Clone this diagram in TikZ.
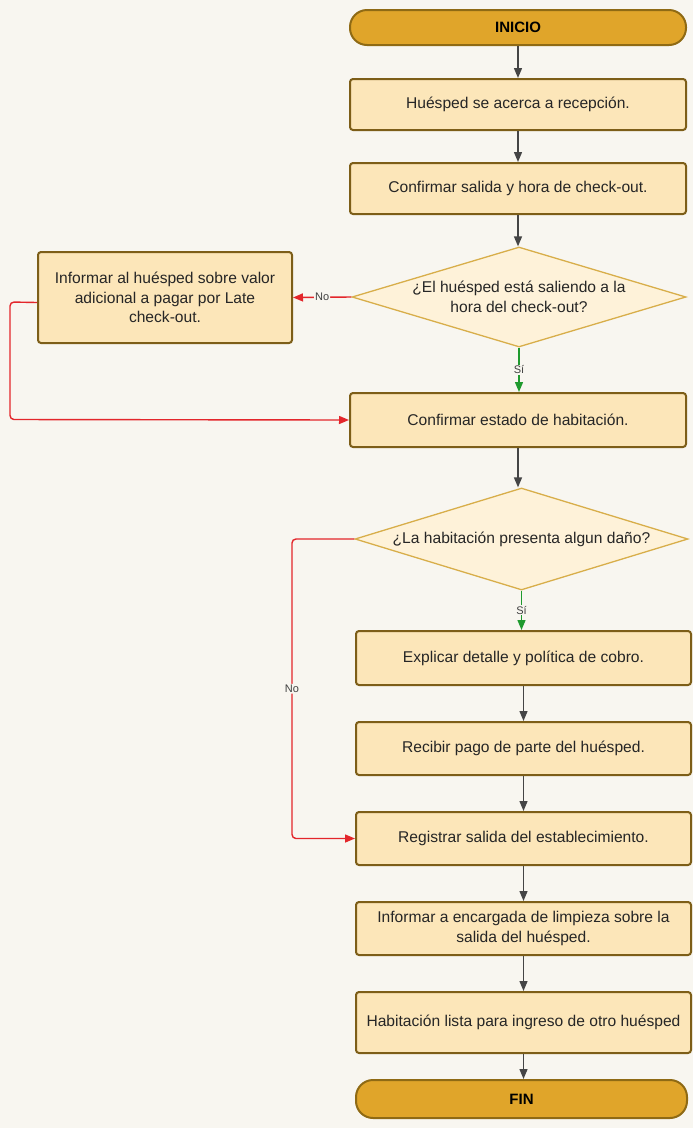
\documentclass[tikz,border=0pt]{standalone}
\usepackage{fontspec}
\setmainfont{Liberation Sans}
\usetikzlibrary{shapes.geometric,arrows.meta}
\definecolor{bgcol}{HTML}{F8F6F0}
\definecolor{boxfill}{HTML}{FCE6B9}
\definecolor{boxline}{HTML}{7D5E18}
\definecolor{termfill}{HTML}{E0A52A}
\definecolor{termline}{HTML}{8F6A14}
\definecolor{decfill}{HTML}{FEF2D9}
\definecolor{decline}{HTML}{D8AE4A}
\definecolor{flowgray}{HTML}{454545}
\definecolor{noRed}{HTML}{E3262B}
\definecolor{yesGreen}{HTML}{1F9A2E}
\tikzset{
  txt/.style={font=\fontsize{15.6}{19.5}\selectfont, text=black!85, align=center},
  stepbox/.style={txt, draw=boxline, fill=boxfill, line width=2pt, rounded corners=3pt,
    minimum width=336pt, inner sep=0pt},
  term/.style={draw=termline, fill=termfill, line width=2pt, rounded corners=17pt,
    font=\bfseries\fontsize{15}{18}\selectfont, inner sep=0pt},
  decision/.style={txt, shape=diamond, draw=decline, fill=decfill, line width=1.3pt,
    aspect=3.3, inner sep=0pt},
  tip/.style={-{Triangle[length=10pt,width=8pt]}},
  arr/.style={draw=flowgray, line width=1.4pt, tip},
  noarr/.style={draw=noRed, line width=1.4pt, rounded corners=4pt, tip},
  yesarr/.style={draw=yesGreen, line width=1.4pt, tip},
  lbl/.style={font=\fontsize{11}{13}\selectfont, text=black!75, fill=bgcol, inner sep=1pt},
}
\begin{document}
\begin{tikzpicture}[x=1pt,y=-1pt]
  \fill[bgcol] (0,0) rectangle (693,1128);
  \useasboundingbox (0,0) rectangle (693,1128);

  % upper column
  \node[term, minimum width=336pt, minimum height=35pt] (ini) at (518,27.5) {INICIO};
  \node[stepbox, minimum height=51pt] (b1) at (518,104.5) {Huésped se acerca a recepción.};
  \node[stepbox, minimum height=51pt] (b2) at (518,188.5) {Confirmar salida y hora de check-out.};
  \node[decision, minimum width=334pt, minimum height=100pt] (d1) at (519,297)
    {¿El huésped está saliendo a la\\hora del check-out?};
  \node[stepbox, minimum width=254pt, minimum height=91pt] (late) at (165,297.5)
    {Informar al huésped sobre valor\\adicional a pagar por Late\\check-out.};
  \node[stepbox, minimum height=54pt] (b3) at (518,420) {Confirmar estado de habitación.};

  % lower column
  \node[decision, minimum width=333pt, minimum height=102pt] (d2) at (521.5,539)
    {¿La habitación presenta algun daño?};
  \node[stepbox, minimum width=335pt, minimum height=54pt] (b4) at (523.5,658) {Explicar detalle y política de cobro.};
  \node[stepbox, minimum width=335pt, minimum height=53pt] (b5) at (523.5,748.5) {Recibir pago de parte del huésped.};
  \node[stepbox, minimum width=335pt, minimum height=53pt] (b6) at (523.5,838.5) {Registrar salida del establecimiento.};
  \node[stepbox, minimum width=335pt, minimum height=53pt] (b7) at (523.5,928.5)
    {Informar a encargada de limpieza sobre la\\salida del huésped.};
  \node[stepbox, minimum width=335pt, minimum height=61pt] (b8) at (523.5,1022.5)
    {Habitación lista para ingreso de otro huésped};
  \node[term, minimum width=331pt, minimum height=38pt] (fin) at (521.5,1099) {FIN};

  % main flow
  \draw[arr] (ini) -- (b1);
  \draw[arr] (b1) -- (b2);
  \draw[arr] (b2.south) -- (b2.south |- d1.north);
  \draw[yesarr] (d1.south) -- node[lbl] {Sí} (d1.south |- b3.north);
  \draw[arr] (b3.south) -- (b3.south |- d2.north);
  \draw[yesarr] (d2.south) -- node[lbl] {Sí} (d2.south |- b4.north);
  \draw[arr] (b4.south) -- (b4.south |- b5.north);
  \draw[arr] (b5) -- (b6);
  \draw[arr] (b6) -- (b7);
  \draw[arr] (b7) -- (b8);
  \draw[arr] (b8.south) -- (b8.south |- fin.north);

  % "No" branches
  \draw[noarr] (d1.west) -- node[lbl, pos=0.5] {No} (late.east);
  \coordinate (lateout) at ([yshift=-5pt]late.west);
  \draw[noarr] (lateout) -- (10,302) -- (10,419.5) -- (b3.west);
  \draw[noarr] (d2.west) -- (292,539) -- node[lbl, pos=0.5] {No} (292,838.5) -- (b6.west);
\end{tikzpicture}
\end{document}
